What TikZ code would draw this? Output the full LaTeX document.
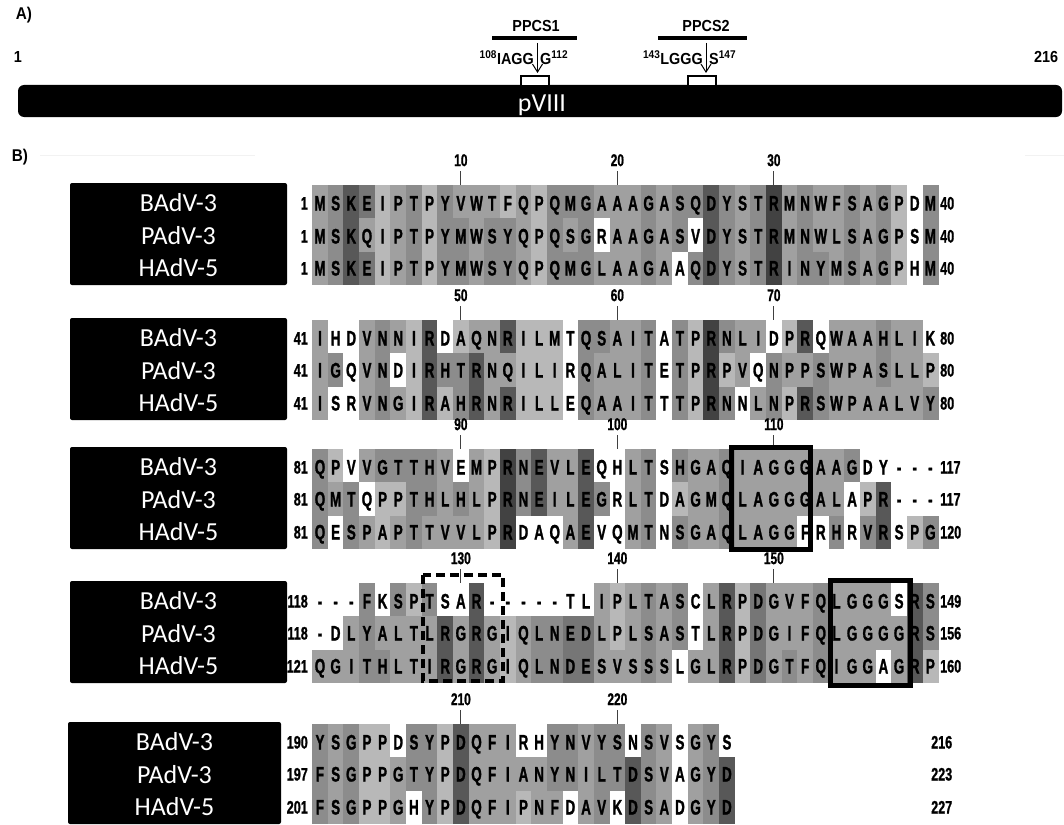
\documentclass[tikz,border=0pt]{standalone}
\usepackage{fontspec}
\setmainfont{Liberation Sans}
\newfontfamily\seqf[FakeStretch=0.64, FakeBold=1.2]{Liberation Sans}
\newfontfamily\numf[FakeStretch=0.7, FakeBold=1]{Liberation Sans}
\newfontfamily\narf[FakeStretch=0.9]{Liberation Sans}
\newfontfamily\labf{Carlito}
\usetikzlibrary{arrows.meta}
\definecolor{sha}{HTML}{B8B8B8}
\definecolor{shb}{HTML}{A0A0A0}
\definecolor{shc}{HTML}{8C8C8C}
\definecolor{shd}{HTML}{767676}
\definecolor{she}{HTML}{585858}
\definecolor{shf}{HTML}{424242}
\definecolor{shw}{HTML}{FFFFFF}
\newcommand\shrow[2]{%
  \foreach \s [count=\i] in {#2} {\fill[sh\s] ({320+(\i-1.5)*15.65},#1) rectangle ({320+(\i-0.5)*15.65+0.4},#1+33.6);}}
\newcommand\txrow[3]{%
  \foreach \ch [count=\i] in {#3} {\node[seq] (#2\i) at ({320+(\i-1)*15.65},#1) {\ch};}}
\newcommand\tickmark[3]{%
  \draw[tickline] ({320+(#1-1)*15.65},#2-14) -- ({320+(#1-1)*15.65},#2);
  \node[numlab] (tk#3) at ({320+(#1-1)*15.65},#2-25) {#3};}
\newcommand\labbox[4]{% x1,x2,top,name
  \fill[black, rounded corners=2pt] (#1,#3-2) rectangle (#2,#3+100);
  \node[lab] (#4B) at ({(#1+#2)/2},#3+18) {BAdV-3};
  \node[lab] (#4P) at ({(#1+#2)/2},#3+51) {PAdV-3};
  \node[lab] (#4H) at ({(#1+#2)/2},#3+83) {HAdV-5};}
\begin{document}
\begin{tikzpicture}[x=1pt,y=-1pt,
  seq/.style={font=\seqf\bfseries\fontsize{21}{22}\selectfont, inner sep=0pt, text height=15pt, text depth=0pt},
  num/.style={font=\numf\bfseries\fontsize{18}{19}\selectfont, inner sep=0pt, text height=13pt, text depth=0pt},
  numlab/.style={font=\numf\bfseries\fontsize{17}{18}\selectfont, inner sep=0pt, text height=12.2pt, text depth=0pt},
  tickline/.style={draw=black!75, line width=0.9pt},
  lab/.style={font=\labf\fontsize{26}{28}\selectfont, text=white, inner sep=0pt},
  hd/.style={font=\narf\bfseries\fontsize{17}{18}\selectfont, inner sep=0pt},
  sm/.style={font=\narf\bfseries\fontsize{16}{17}\selectfont, inner sep=0pt},
  motifbox/.style={draw=black, line width=2.5pt, fill=white},
  hlbox/.style={draw=black, line width=5pt},
  dashbox/.style={draw=black, line width=3.5pt, dash pattern=on 9pt off 5pt}]
\useasboundingbox (0,0) rectangle (1064,824);
% ---------- Part A ----------
\node[hd] (pA) at (24,15) {A)};
\node[sm] (ppcs1) at (536,26) {PPCS1};
\node[sm] (ppcs2) at (706,26) {PPCS2};
\draw[line width=3.5pt] (492,38) -- (577,38);
\draw[line width=3.5pt] (658,38) -- (747,38);
\node[sm] (one) at (18,57) {1};
\node[sm] (end216) at (1046,57) {216};
\node[sm, anchor=base east] (m1l) at (534,65) {\textsuperscript{108}IAGG};
\node[sm, anchor=base west] (m1r) at (540,65) {G\textsuperscript{112}};
\node[sm, anchor=base east] (m2l) at (703,65) {\textsuperscript{143}LGGG};
\node[sm, anchor=base west] (m2r) at (709,65) {S\textsuperscript{147}};
\coordinate (a1t) at (537.5,43); \coordinate (a1b) at (537.5,73);
\coordinate (a2t) at (706,43); \coordinate (a2b) at (706,73);
\draw[line width=1pt, -{Straight Barb[length=8pt,width=10pt]}] (a1t) -- (a1b);
\draw[line width=1pt, -{Straight Barb[length=8pt,width=10pt]}] (a2t) -- (a2b);
\fill[black, rounded corners=6pt] (18,85) rectangle (1062,117);
\draw[motifbox] (521,76) rectangle (549,86);
\draw[motifbox] (688,76) rectangle (716,86);
\node[font=\labf\fontsize{26}{28}\selectfont, text=white, inner sep=0pt, anchor=base] (pviii) at (542,111) {pVIII};
% ---------- Part B ----------
\node[hd] (pB) at (20,157) {B)};
\draw[black!5, line width=1pt] (40,155) -- (255,155);
\draw[black!5, line width=1pt] (1025,155) -- (1064,155);
% Block 1 (top 185)
\shrow{185}{b,c,e,d,a,b,c,a,c,b,b,b,a,b,a,c,c,c,b,b,b,c,b,c,c,e,c,b,c,f,b,c,b,b,c,b,c,a,w,c}
\shrow{218.3}{b,c,e,b,a,b,c,a,c,c,b,c,c,b,a,c,b,c,w,b,b,c,b,c,w,e,c,b,c,f,b,c,b,b,c,b,c,a,w,c}
\shrow{251.6}{b,c,e,d,a,b,c,a,c,c,b,c,c,b,a,c,c,c,b,b,b,c,b,w,c,e,c,b,c,f,b,c,c,b,c,b,c,a,w,c}
\txrow{203}{aB}{M,S,K,E,I,P,T,P,Y,V,W,T,F,Q,P,Q,M,G,A,A,A,G,A,S,Q,D,Y,S,T,R,M,N,W,F,S,A,G,P,D,M}
\txrow{236}{aP}{M,S,K,Q,I,P,T,P,Y,M,W,S,Y,Q,P,Q,S,G,R,A,A,G,A,S,V,D,Y,S,T,R,M,N,W,L,S,A,G,P,S,M}
\txrow{268}{aH}{M,S,K,E,I,P,T,P,Y,M,W,S,Y,Q,P,Q,M,G,L,A,A,G,A,A,Q,D,Y,S,T,R,I,N,Y,M,S,A,G,P,H,M}
\tickmark{10}{185}{10}\tickmark{20}{185}{20}\tickmark{30}{185}{30}
\node[num, anchor=east] (s1a) at (308,203) {1};
\node[num, anchor=east] (s1b) at (308,236) {1};
\node[num, anchor=east] (s1c) at (308,268) {1};
\node[num, anchor=west] (e1a) at (940,203) {40};
\node[num, anchor=west] (e1b) at (940,236) {40};
\node[num, anchor=west] (e1c) at (940,268) {40};
\labbox{70}{287}{185}{L1}
% Block 2 (top 320)
\shrow{320}{b,w,w,b,c,b,a,e,w,a,b,b,e,a,a,a,w,c,c,b,b,c,w,c,a,f,c,b,b,w,a,e,w,b,b,b,c,b,b,w}
\shrow{353.3}{b,c,w,b,c,w,a,e,c,c,e,b,b,a,a,a,w,c,b,b,b,c,w,c,a,f,a,b,w,c,b,b,c,b,b,b,c,b,b,a}
\shrow{386.6}{b,w,w,b,c,b,a,e,a,c,e,b,e,a,a,a,w,c,b,b,b,c,w,c,a,f,c,w,b,c,a,e,c,b,b,b,b,b,b,c}
\txrow{338}{bB}{I,H,D,V,N,N,I,R,D,A,Q,N,R,I,L,M,T,Q,S,A,I,T,A,T,P,R,N,L,I,D,P,R,Q,W,A,A,H,L,I,K}
\txrow{370}{bP}{I,G,Q,V,N,D,I,R,H,T,R,N,Q,I,L,I,R,Q,A,L,I,T,E,T,P,R,P,V,Q,N,P,P,S,W,P,A,S,L,L,P}
\txrow{403}{bH}{I,S,R,V,N,G,I,R,A,H,R,N,R,I,L,L,E,Q,A,A,I,T,T,T,P,R,N,N,L,N,P,R,S,W,P,A,A,L,V,Y}
\tickmark{10}{320}{50}\tickmark{20}{320}{60}\tickmark{30}{320}{70}
\node[num, anchor=east] (s2a) at (308,338) {41};
\node[num, anchor=east] (s2b) at (308,370) {41};
\node[num, anchor=east] (s2c) at (308,403) {41};
\node[num, anchor=west] (e2a) at (940,338) {80};
\node[num, anchor=west] (e2b) at (940,370) {80};
\node[num, anchor=west] (e2c) at (940,403) {80};
\labbox{70}{287}{320}{L2}
% Block 3 (top 449)
\shrow{449}{c,a,w,b,c,c,c,c,b,w,b,a,f,c,e,b,b,e,w,w,b,c,w,c,b,b,c,b,b,b,b,b,b,b,c,w,w,w,w,w}
\shrow{482.3}{c,b,c,w,a,a,c,c,b,c,b,a,f,c,e,b,b,e,c,w,b,c,w,a,b,b,c,b,b,b,b,b,b,b,w,a,e,w,w,w}
\shrow{515.6}{c,w,c,b,a,b,c,b,b,b,b,a,f,w,w,w,b,e,w,w,b,c,w,c,b,b,c,b,b,b,b,w,w,c,w,c,e,w,a,c}
\txrow{467}{cB}{Q,P,V,V,G,T,T,H,V,E,M,P,R,N,E,V,L,E,Q,H,L,T,S,H,G,A,Q,I,A,G,G,G,A,A,G,D,Y,-,-,-}
\txrow{499}{cP}{Q,M,T,Q,P,P,T,H,L,H,L,P,R,N,E,I,L,E,G,R,L,T,D,A,G,M,Q,L,A,G,G,G,A,L,A,P,R,-,-,-}
\txrow{532}{cH}{Q,E,S,P,A,P,T,T,V,V,L,P,R,D,A,Q,A,E,V,Q,M,T,N,S,G,A,Q,L,A,G,G,F,R,H,R,V,R,S,P,G}
\tickmark{10}{449}{90}\tickmark{20}{449}{100}\tickmark{30}{449}{110}
\node[num, anchor=east] (s3a) at (308,467) {81};
\node[num, anchor=east] (s3b) at (308,499) {81};
\node[num, anchor=east] (s3c) at (308,532) {81};
\node[num, anchor=west] (e3a) at (940,467) {117};
\node[num, anchor=west] (e3b) at (940,499) {117};
\node[num, anchor=west] (e3c) at (940,532) {120};
\labbox{70}{287}{449}{L3}
\draw[hlbox] (731.5,447.5) rectangle (810.5,549.5);
% Block 4 (top 583)
\shrow{583}{w,w,w,c,w,c,a,c,w,w,e,w,w,w,w,w,w,w,b,a,b,c,b,c,w,b,e,a,d,b,b,b,c,b,b,b,b,w,e,c}
\shrow{616.3}{w,w,b,c,b,b,b,b,e,b,e,b,a,b,c,c,d,d,b,a,b,c,b,c,w,b,e,a,d,b,b,b,c,b,b,b,b,b,e,c}
\shrow{649.6}{b,b,b,c,c,b,b,b,e,b,e,b,a,b,c,c,d,d,b,b,b,c,b,w,b,b,e,a,d,b,c,b,c,b,b,b,w,b,e,a}
\txrow{601}{dB}{-,-,-,F,K,S,P,T,S,A,R,-,-,-,-,-,T,L,I,P,L,T,A,S,C,L,R,P,D,G,V,F,Q,L,G,G,G,S,R,S}
\txrow{633}{dP}{-,D,L,Y,A,L,T,L,R,G,R,G,I,Q,L,N,E,D,L,P,L,S,A,S,T,L,R,P,D,G,I,F,Q,L,G,G,G,G,R,S}
\txrow{666}{dH}{Q,G,I,T,H,L,T,I,R,G,R,G,I,Q,L,N,D,E,S,V,S,S,S,L,G,L,R,P,D,G,T,F,Q,I,G,G,A,G,R,P}
\tickmark{10}{583}{130}\tickmark{20}{583}{140}\tickmark{30}{583}{150}
\node[num, anchor=east] (s4a) at (308,601) {118};
\node[num, anchor=east] (s4b) at (308,633) {118};
\node[num, anchor=east] (s4c) at (308,666) {121};
\node[num, anchor=west] (e4a) at (940,601) {149};
\node[num, anchor=west] (e4b) at (940,633) {156};
\node[num, anchor=west] (e4c) at (940,666) {160};
\labbox{70}{287}{583}{L4}
\draw[dashbox] (423,575) rectangle (503,681);
\draw[hlbox] (830.5,580.5) rectangle (910.5,685.5);
% Block 5 (top 724)
\shrow{724}{c,b,c,a,a,w,c,c,a,e,b,b,b,w,w,c,c,b,c,c,w,c,b,w,b,c,w}
\shrow{757.3}{c,b,c,a,a,b,c,c,a,e,b,b,b,b,b,c,c,b,c,c,e,c,b,w,b,c,e}
\shrow{790.6}{c,b,c,a,a,b,w,c,a,e,b,b,b,a,b,b,w,b,c,w,e,c,b,w,b,c,e}
\txrow{742}{eB}{Y,S,G,P,P,D,S,Y,P,D,Q,F,I,R,H,Y,N,V,Y,S,N,S,V,S,G,Y,S}
\txrow{774}{eP}{F,S,G,P,P,G,T,Y,P,D,Q,F,I,A,N,Y,N,I,L,T,D,S,V,A,G,Y,D}
\txrow{807}{eH}{F,S,G,P,P,G,H,Y,P,D,Q,F,I,P,N,F,D,A,V,K,D,S,A,D,G,Y,D}
\tickmark{10}{724}{210}\tickmark{20}{724}{220}
\node[num, anchor=east] (s5a) at (308,742) {190};
\node[num, anchor=east] (s5b) at (308,774) {197};
\node[num, anchor=east] (s5c) at (308,807) {201};
\node[num, anchor=west] (e5a) at (931,742) {216};
\node[num, anchor=west] (e5b) at (931,774) {223};
\node[num, anchor=west] (e5c) at (931,807) {227};
\labbox{68}{281}{724}{L5}
\end{tikzpicture}
\end{document}
